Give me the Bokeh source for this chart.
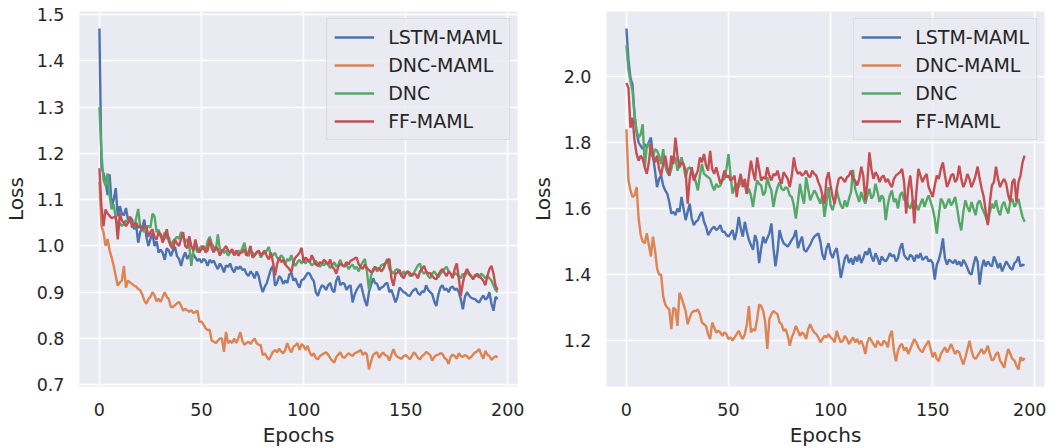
import numpy as np
from bokeh.plotting import figure
from bokeh.layouts import row
from bokeh.models import Range1d, FixedTicker, Legend, LegendItem, PrintfTickFormatter
from bokeh.embed import file_html
from bokeh.resources import INLINE

epochs = list(range(196))
series_names = ["LSTM-MAML", "DNC-MAML", "DNC", "FF-MAML"]
colors = ["#4C72B0", "#DD8452", "#55A868", "#C44E52"]
x_ticks = [0, 50, 100, 150, 200]
left_y_ticks = [0.7, 0.8, 0.9, 1.0, 1.1, 1.2, 1.3, 1.4, 1.5]
right_y_ticks = [1.2, 1.4, 1.6, 1.8, 2.0]

left_lstm_maml = [
1.470,1.170,1.157,1.140,1.110,1.155,1.086,1.100,1.125,1.064,
1.086,1.070,1.066,1.082,1.057,1.060,1.058,1.036,1.045,1.007,
1.030,1.040,1.057,1.020,1.000,1.015,1.028,1.000,1.010,0.986,
0.992,0.985,0.970,0.995,0.990,0.978,0.990,0.998,0.978,0.972,
0.957,0.975,0.986,0.972,0.980,0.976,0.982,0.975,0.968,0.972,
0.964,0.972,0.968,0.957,0.970,0.964,0.968,0.958,0.950,0.962,
0.955,0.943,0.958,0.955,0.962,0.950,0.943,0.955,0.950,0.956,
0.948,0.950,0.940,0.935,0.945,0.940,0.930,0.945,0.935,0.914,
0.900,0.912,0.920,0.935,0.950,0.957,0.914,0.920,0.935,0.930,
0.918,0.925,0.920,0.938,0.942,0.925,0.930,0.918,0.910,0.926,
0.928,0.935,0.942,0.940,0.930,0.924,0.900,0.892,0.906,0.915,
0.912,0.905,0.915,0.920,0.905,0.900,0.925,0.935,0.915,0.920,
0.918,0.905,0.912,0.915,0.878,0.895,0.905,0.912,0.918,0.900,
0.882,0.870,0.900,0.915,0.930,0.920,0.918,0.905,0.910,0.912,
0.918,0.920,0.900,0.905,0.892,0.878,0.890,0.910,0.905,0.900,
0.898,0.893,0.892,0.900,0.905,0.908,0.898,0.894,0.902,0.900,
0.915,0.905,0.900,0.896,0.880,0.870,0.895,0.910,0.915,0.905,
0.908,0.900,0.910,0.912,0.905,0.908,0.900,0.885,0.863,0.890,
0.900,0.893,0.888,0.886,0.885,0.880,0.878,0.886,0.893,0.884,
0.888,0.900,0.875,0.860,0.890,0.885]

left_dnc_maml = [
1.139,1.043,1.030,1.000,1.015,0.990,0.975,0.957,0.935,0.914,
0.921,0.925,0.957,0.910,0.925,0.921,0.918,0.914,0.912,0.907,
0.904,0.895,0.882,0.875,0.885,0.890,0.900,0.893,0.880,0.886,
0.879,0.890,0.900,0.890,0.885,0.868,0.868,0.872,0.876,0.879,
0.871,0.860,0.864,0.861,0.858,0.861,0.855,0.857,0.860,0.836,
0.836,0.830,0.822,0.818,0.819,0.795,0.793,0.790,0.795,0.800,
0.800,0.771,0.814,0.790,0.795,0.790,0.800,0.790,0.800,0.814,
0.795,0.786,0.790,0.793,0.788,0.795,0.800,0.790,0.786,0.786,
0.764,0.768,0.760,0.754,0.762,0.771,0.775,0.770,0.778,0.772,
0.768,0.775,0.790,0.778,0.770,0.782,0.785,0.790,0.775,0.788,
0.784,0.775,0.784,0.770,0.762,0.768,0.758,0.755,0.762,0.765,
0.768,0.770,0.765,0.758,0.752,0.748,0.760,0.765,0.770,0.760,
0.758,0.763,0.768,0.765,0.762,0.768,0.770,0.772,0.775,0.764,
0.770,0.765,0.733,0.750,0.764,0.768,0.770,0.758,0.765,0.770,
0.764,0.762,0.752,0.765,0.777,0.765,0.760,0.758,0.756,0.762,
0.764,0.760,0.755,0.762,0.770,0.765,0.758,0.755,0.762,0.765,
0.771,0.768,0.764,0.752,0.760,0.764,0.765,0.768,0.767,0.758,
0.755,0.745,0.760,0.765,0.762,0.756,0.768,0.762,0.760,0.764,
0.762,0.756,0.760,0.765,0.770,0.772,0.777,0.765,0.756,0.773,
0.765,0.762,0.754,0.758,0.762,0.759]

left_dnc = [
1.300,1.200,1.143,1.130,1.157,1.110,1.079,1.090,1.060,1.043,
1.050,1.043,1.048,1.055,1.050,1.058,1.050,1.040,1.060,1.080,
1.040,1.035,1.030,1.040,1.043,1.040,1.070,1.064,1.030,1.035,
1.020,1.018,1.029,1.015,1.020,1.000,1.010,1.015,1.020,1.015,
1.030,1.022,1.007,1.015,1.000,0.957,0.990,1.000,0.986,0.995,
1.000,0.993,0.990,1.010,1.020,1.005,0.998,0.990,1.025,0.993,
0.990,0.985,0.990,0.979,0.985,0.990,0.980,0.986,0.990,0.985,
0.995,1.007,0.985,0.978,0.990,0.985,0.980,0.986,0.990,0.975,
0.982,0.985,0.990,0.998,0.975,0.980,0.985,0.975,0.970,0.980,
0.975,0.960,0.972,0.968,0.980,0.965,0.957,0.965,0.970,0.962,
0.968,0.962,0.970,0.965,0.958,0.962,0.968,0.960,0.955,0.962,
0.958,0.965,0.960,0.952,0.958,0.965,0.955,0.960,0.970,0.958,
0.955,0.960,0.950,0.956,0.960,0.950,0.955,0.945,0.958,0.965,
0.972,0.945,0.906,0.935,0.950,0.955,0.945,0.950,0.958,0.960,
0.962,0.972,0.950,0.945,0.940,0.948,0.950,0.942,0.935,0.945,
0.940,0.945,0.935,0.938,0.942,0.950,0.958,0.962,0.945,0.940,
0.945,0.935,0.930,0.940,0.945,0.938,0.932,0.940,0.945,0.950,
0.955,0.945,0.940,0.935,0.942,0.938,0.935,0.930,0.940,0.935,
0.945,0.938,0.935,0.930,0.938,0.935,0.932,0.940,0.936,0.930,
0.935,0.930,0.925,0.915,0.905,0.900]

left_ff_maml = [
1.168,1.086,1.043,1.079,1.070,1.065,1.060,1.062,1.064,1.014,
1.071,1.055,1.050,1.043,1.050,1.064,1.040,1.045,1.050,1.040,
1.043,1.036,1.040,1.043,1.020,1.030,1.036,1.020,1.014,1.030,
1.025,1.007,1.020,1.036,1.010,1.000,0.993,1.014,1.005,1.000,
1.015,1.030,1.000,0.995,1.021,1.000,0.990,1.014,0.995,0.986,
0.993,1.000,0.986,0.990,1.014,0.995,0.986,0.998,0.993,0.979,
0.990,0.993,1.000,0.990,0.986,0.993,0.980,0.990,0.979,0.985,
0.986,0.993,0.979,0.986,1.000,0.975,0.979,0.986,0.990,0.979,
0.985,0.990,0.978,0.971,0.986,0.965,0.936,0.960,0.975,0.965,
0.970,0.960,0.955,0.950,0.943,0.965,0.975,0.980,0.985,0.996,
0.965,0.975,0.970,0.965,0.980,0.970,0.960,0.957,0.965,0.962,
0.970,0.965,0.960,0.971,0.955,0.950,0.940,0.955,0.962,0.958,
0.957,0.965,0.960,0.968,0.970,0.973,0.975,0.960,0.955,0.950,
0.960,0.952,0.948,0.943,0.945,0.955,0.950,0.952,0.945,0.950,
0.962,0.968,0.972,0.930,0.914,0.940,0.942,0.948,0.935,0.930,
0.940,0.945,0.942,0.935,0.940,0.938,0.930,0.945,0.950,0.957,
0.945,0.940,0.942,0.935,0.930,0.928,0.938,0.945,0.950,0.942,
0.935,0.945,0.940,0.930,0.950,0.962,0.930,0.892,0.920,0.940,
0.950,0.942,0.935,0.928,0.935,0.940,0.935,0.930,0.925,0.915,
0.935,0.950,0.957,0.940,0.914,0.905]

right_lstm_maml = [
2.145,2.050,1.995,1.975,1.880,1.830,1.800,1.790,1.780,1.795,
1.785,1.800,1.815,1.760,1.715,1.665,1.690,1.700,1.670,1.655,
1.645,1.620,1.585,1.590,1.580,1.600,1.590,1.635,1.600,1.565,
1.590,1.615,1.570,1.550,1.560,1.565,1.580,1.590,1.560,1.545,
1.520,1.530,1.540,1.545,1.535,1.540,1.550,1.530,1.530,1.520,
1.515,1.525,1.535,1.505,1.530,1.575,1.540,1.515,1.560,1.530,
1.505,1.490,1.475,1.520,1.500,1.435,1.480,1.515,1.495,1.510,
1.525,1.555,1.480,1.425,1.470,1.535,1.510,1.495,1.490,1.485,
1.495,1.505,1.515,1.535,1.480,1.500,1.515,1.475,1.470,1.480,
1.490,1.505,1.515,1.520,1.525,1.500,1.460,1.445,1.480,1.495,
1.465,1.450,1.470,1.480,1.440,1.390,1.420,1.450,1.460,1.435,
1.450,1.430,1.455,1.440,1.460,1.435,1.450,1.470,1.460,1.480,
1.455,1.440,1.465,1.450,1.430,1.455,1.445,1.440,1.450,1.465,
1.455,1.460,1.440,1.450,1.480,1.495,1.460,1.450,1.445,1.460,
1.455,1.440,1.460,1.450,1.465,1.445,1.450,1.455,1.440,1.445,
1.435,1.385,1.430,1.445,1.470,1.510,1.450,1.430,1.445,1.440,
1.435,1.445,1.430,1.440,1.425,1.445,1.435,1.420,1.405,1.400,
1.430,1.455,1.440,1.370,1.420,1.445,1.425,1.440,1.430,1.425,
1.455,1.440,1.420,1.435,1.410,1.425,1.440,1.430,1.420,1.415,
1.435,1.440,1.455,1.425,1.430,1.428]

right_dnc_maml = [
1.840,1.685,1.655,1.635,1.640,1.665,1.570,1.520,1.500,1.495,
1.525,1.490,1.455,1.515,1.475,1.420,1.400,1.400,1.335,1.310,
1.300,1.295,1.235,1.300,1.295,1.245,1.345,1.330,1.310,1.290,
1.250,1.270,1.285,1.290,1.290,1.295,1.280,1.255,1.250,1.245,
1.220,1.205,1.255,1.240,1.225,1.230,1.225,1.215,1.225,1.220,
1.205,1.210,1.200,1.210,1.220,1.230,1.215,1.205,1.220,1.250,
1.305,1.225,1.235,1.230,1.265,1.310,1.305,1.290,1.255,1.175,
1.265,1.280,1.290,1.285,1.280,1.255,1.250,1.230,1.235,1.215,
1.185,1.210,1.225,1.245,1.230,1.215,1.225,1.220,1.205,1.235,
1.250,1.235,1.225,1.220,1.210,1.195,1.205,1.215,1.210,1.220,
1.210,1.205,1.195,1.230,1.210,1.195,1.200,1.215,1.205,1.190,
1.200,1.210,1.195,1.205,1.190,1.200,1.185,1.160,1.195,1.210,
1.200,1.190,1.180,1.200,1.190,1.185,1.200,1.195,1.180,1.215,
1.230,1.170,1.138,1.170,1.185,1.190,1.170,1.180,1.160,1.175,
1.190,1.205,1.195,1.180,1.170,1.165,1.180,1.190,1.200,1.175,
1.150,1.165,1.145,1.138,1.160,1.170,1.180,1.165,1.175,1.190,
1.175,1.160,1.170,1.165,1.145,1.128,1.150,1.175,1.200,1.170,
1.150,1.145,1.155,1.165,1.175,1.160,1.170,1.185,1.160,1.140,
1.145,1.160,1.165,1.140,1.130,1.118,1.150,1.175,1.160,1.145,
1.140,1.125,1.113,1.150,1.140,1.148]

right_dnc = [
2.095,2.020,1.985,1.955,1.885,1.835,1.815,1.825,1.855,1.725,
1.790,1.800,1.765,1.755,1.780,1.775,1.760,1.735,1.780,1.730,
1.710,1.700,1.720,1.750,1.755,1.715,1.730,1.755,1.730,1.695,
1.720,1.725,1.715,1.700,1.680,1.655,1.700,1.735,1.705,1.700,
1.695,1.690,1.670,1.655,1.675,1.665,1.670,1.685,1.690,1.720,
1.765,1.700,1.645,1.665,1.675,1.665,1.680,1.685,1.670,1.645,
1.660,1.640,1.605,1.650,1.685,1.675,1.670,1.640,1.650,1.695,
1.670,1.655,1.605,1.640,1.665,1.680,1.660,1.655,1.665,1.660,
1.640,1.635,1.610,1.570,1.620,1.675,1.640,1.615,1.695,1.660,
1.625,1.640,1.655,1.645,1.630,1.615,1.640,1.575,1.620,1.665,
1.610,1.595,1.620,1.655,1.630,1.610,1.600,1.625,1.605,1.630,
1.650,1.717,1.660,1.640,1.620,1.650,1.630,1.615,1.640,1.660,
1.630,1.640,1.675,1.650,1.620,1.640,1.630,1.565,1.610,1.640,
1.655,1.620,1.630,1.600,1.640,1.650,1.625,1.635,1.610,1.600,
1.620,1.625,1.610,1.595,1.615,1.630,1.605,1.625,1.640,1.620,
1.600,1.570,1.524,1.580,1.630,1.620,1.600,1.615,1.630,1.610,
1.620,1.635,1.600,1.560,1.534,1.590,1.625,1.605,1.590,1.620,
1.600,1.580,1.615,1.625,1.605,1.590,1.575,1.555,1.590,1.615,
1.600,1.625,1.595,1.580,1.610,1.620,1.600,1.585,1.620,1.630,
1.605,1.615,1.630,1.600,1.575,1.560]

right_ff_maml = [
1.980,1.965,1.845,1.875,1.805,1.765,1.745,1.760,1.750,1.725,
1.705,1.740,1.795,1.760,1.740,1.760,1.720,1.700,1.735,1.760,
1.725,1.700,1.760,1.735,1.815,1.760,1.725,1.740,1.735,1.715,
1.615,1.690,1.725,1.685,1.700,1.715,1.755,1.740,1.765,1.730,
1.715,1.775,1.720,1.705,1.725,1.700,1.675,1.690,1.715,1.695,
1.700,1.685,1.690,1.700,1.635,1.680,1.705,1.665,1.690,1.645,
1.700,1.745,1.710,1.685,1.755,1.720,1.685,1.695,1.690,1.725,
1.700,1.685,1.705,1.700,1.715,1.690,1.675,1.710,1.700,1.690,
1.665,1.700,1.755,1.720,1.705,1.710,1.700,1.705,1.715,1.700,
1.695,1.715,1.705,1.700,1.680,1.665,1.640,1.615,1.690,1.710,
1.670,1.635,1.615,1.660,1.690,1.695,1.690,1.680,1.695,1.700,
1.715,1.690,1.685,1.670,1.690,1.727,1.700,1.625,1.680,1.770,
1.720,1.690,1.710,1.700,1.680,1.695,1.700,1.680,1.690,1.675,
1.665,1.690,1.700,1.705,1.710,1.720,1.680,1.585,1.660,1.700,
1.640,1.555,1.650,1.720,1.700,1.680,1.695,1.705,1.665,1.650,
1.635,1.670,1.700,1.690,1.720,1.740,1.700,1.665,1.680,1.700,
1.705,1.680,1.690,1.730,1.690,1.665,1.680,1.705,1.690,1.665,
1.680,1.700,1.727,1.690,1.660,1.635,1.590,1.550,1.620,1.670,
1.680,1.727,1.690,1.665,1.680,1.690,1.675,1.640,1.620,1.680,
1.690,1.620,1.680,1.700,1.740,1.760]

TEXT = "#262626"
BG = "#EAEAF2"
FONT = "DejaVu Sans"


def make_panel(series, y_ticks, border_left, border_right):
    allv = np.concatenate([np.asarray(s) for s in series])
    lo, hi = allv.min(), allv.max()
    pad = 0.05 * (hi - lo)
    xpad = 0.05 * (epochs[-1] - epochs[0])
    p = figure(frame_width=438, frame_height=375, output_backend="svg", toolbar_location=None,
               x_range=Range1d(epochs[0] - xpad, epochs[-1] + xpad),
               y_range=Range1d(lo - pad, hi + pad),
               min_border_left=border_left, min_border_right=border_right,
               min_border_top=11, min_border_bottom=58)
    p.background_fill_color = BG
    p.border_fill_color = "white"
    p.outline_line_color = None
    renderers = []
    for s, c in zip(series, colors):
        r = p.line(epochs, s, line_color=c, line_width=2.4)
        renderers.append(r)
    for ax in (p.xaxis[0], p.yaxis[0]):
        ax.axis_line_color = None
        ax.major_tick_line_color = None
        ax.minor_tick_line_color = None
        ax.major_tick_out = 0
        ax.major_tick_in = 0
        ax.minor_tick_out = 0
        ax.minor_tick_in = 0
        ax.major_label_text_color = TEXT
        ax.major_label_text_font = FONT
        ax.major_label_text_font_size = "17.5px"
        ax.axis_label_text_color = TEXT
        ax.axis_label_text_font = FONT
        ax.axis_label_text_font_size = "20px"
        ax.axis_label_text_font_style = "normal"
    p.xaxis[0].ticker = FixedTicker(ticks=x_ticks)
    p.yaxis[0].ticker = FixedTicker(ticks=y_ticks)
    p.yaxis[0].formatter = PrintfTickFormatter(format="%.1f")
    p.xaxis[0].axis_label = "Epochs"
    p.yaxis[0].axis_label = "Loss"
    p.xaxis[0].major_label_standoff = 16
    p.yaxis[0].major_label_standoff = 15
    p.xaxis[0].axis_label_standoff = 4
    p.yaxis[0].axis_label_standoff = 6
    p.grid.grid_line_color = "white"
    p.grid.grid_line_width = 1.6
    p.xgrid.ticker = FixedTicker(ticks=x_ticks)
    p.ygrid.ticker = FixedTicker(ticks=y_ticks)
    legend = Legend(items=[LegendItem(label=n, renderers=[r]) for n, r in zip(series_names, renderers)],
                    location="top_right")
    legend.label_text_font = FONT
    legend.label_text_font_size = "19px"
    legend.label_text_color = TEXT
    legend.glyph_width = 40
    legend.glyph_height = 20
    legend.label_height = 20
    legend.label_standoff = 14
    legend.spacing = 6
    legend.padding = 7
    legend.margin = 7
    legend.border_line_color = "#CCCCCC"
    legend.border_line_width = 1.2
    legend.background_fill_color = BG
    legend.background_fill_alpha = 0.8
    p.add_layout(legend)
    return p


p1 = make_panel([left_lstm_maml, left_dnc_maml, left_dnc, left_ff_maml], left_y_ticks, 75, 10)
p2 = make_panel([right_lstm_maml, right_dnc_maml, right_dnc, right_ff_maml], right_y_ticks, 71, 2)

layout = row(p1, p2)
open("out.html", "w").write(file_html(layout, INLINE))
